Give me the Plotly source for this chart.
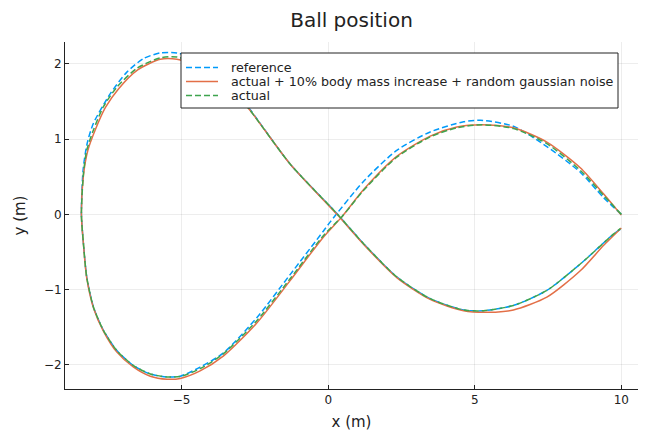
import plotly.graph_objects as go

# reference trajectory
ref_x = [10.0, 9.4, 8.6, 7.46, 6.32, 5.2, 4.62, 3.48, 2.34, 1.21, 0.07, -0.16, -1.30, -2.43, -3.57,
         -4.37, -5.05, -5.5, -6.07, -6.64, -7.21, -7.67, -8.01, -8.24, -8.35, -8.42,
         -8.36, -8.22, -8.01, -7.44, -6.87, -6.30, -5.73, -5.16, -4.4, -3.5, -2.66, -1.30, 0.3,
         1.21, 2.34, 3.48, 4.62, 5.3, 6.32, 7.46, 8.6, 9.74, 10.0]
ref_y = [0.0, 0.22, 0.56, 0.90, 1.17, 1.25, 1.23, 1.095, 0.85, 0.44, -0.10, -0.22, -0.80, -1.37, -1.84,
         -2.03, -2.15, -2.16, -2.12, -2.01, -1.81, -1.54, -1.23, -0.83, -0.39, 0.0,
         0.6, 0.95, 1.21, 1.60, 1.89, 2.07, 2.145, 2.145, 2.05, 1.80, 1.39, 0.67, 0.01,
         -0.39, -0.83, -1.12, -1.27, -1.28, -1.21, -1.01, -0.66, -0.26, -0.19]

# actual + 10% body mass increase + random gaussian noise
noisy_x = [10.0, 9.4, 8.6, 7.46, 6.32, 5.25, 4.39, 3.48, 2.34, 1.21, 0.47, -0.16, -1.30, -2.43, -3.57,
           -4.37, -5.05, -5.5, -6.07, -6.64, -7.21, -7.67, -8.01, -8.24, -8.35, -8.42,
           -8.35, -8.2, -7.95, -7.6, -7.15, -6.5, -5.73, -5.16, -4.4, -3.5, -2.66, -1.30, 0.3,
           1.21, 2.34, 3.48, 4.62, 5.5, 6.32, 7.46, 8.6, 9.4, 10.0]
noisy_y = [-0.01, 0.27, 0.62, 0.96, 1.15, 1.19, 1.16, 1.04, 0.77, 0.33, -0.03, -0.30, -0.88, -1.44, -1.88,
           -2.08, -2.18, -2.19, -2.15, -2.03, -1.83, -1.55, -1.24, -0.84, -0.40, 0.0,
           0.52, 0.85, 1.12, 1.42, 1.67, 1.92, 2.06, 2.06, 1.96, 1.76, 1.38, 0.67, 0.0,
           -0.40, -0.84, -1.13, -1.28, -1.30, -1.27, -1.10, -0.75, -0.41, -0.18]

# actual
act_x = [10.0, 9.4, 8.6, 7.46, 6.32, 5.25, 4.39, 3.48, 2.34, 1.21, 0.47, -0.16, -1.30, -2.43, -3.57,
         -4.37, -5.05, -5.5, -6.07, -6.64, -7.21, -7.67, -8.01, -8.24, -8.35, -8.42,
         -8.35, -8.24, -8.01, -7.67, -7.21, -6.53, -5.73, -5.16, -4.4, -3.5, -2.66, -1.30, 0.3,
         1.21, 2.34, 3.48, 4.62, 5.3, 6.32, 7.46, 8.6, 9.74, 9.97]
act_y = [0.0, 0.25, 0.585, 0.94, 1.14, 1.19, 1.15, 1.03, 0.76, 0.32, -0.03, -0.28, -0.855, -1.41, -1.85,
         -2.05, -2.155, -2.16, -2.12, -2.01, -1.81, -1.54, -1.23, -0.83, -0.39, 0.0,
         0.54, 0.85, 1.12, 1.43, 1.69, 1.94, 2.08, 2.09, 1.98, 1.77, 1.38, 0.67, 0.01,
         -0.39, -0.83, -1.12, -1.27, -1.28, -1.21, -1.01, -0.66, -0.26, -0.19]

x_ticks = [-5, 0, 5, 10]
y_ticks = [-2, -1, 0, 1, 2]

series_names = ["reference",
                "actual + 10% body mass increase + random gaussian noise",
                "actual"]
series_colors = ["#009AFA", "#E36F47", "#3EA44E"]
series_dash = ["6px,3px", "solid", "6px,3px"]

FONT = "DejaVu Sans"
TXT = "#222222"

W, H = 647, 433
PL, PR, PT, PB = 65, 638, 42, 389  # plot area in pixels


def px_x(p):
    return (p - PL) / (PR - PL)


def px_y(p):
    return (PB - p) / (PB - PT)


fig = go.Figure()
for xs, ys, name, col, dash in zip([ref_x, noisy_x, act_x], [ref_y, noisy_y, act_y],
                                   series_names, series_colors, series_dash):
    fig.add_trace(go.Scatter(x=xs, y=ys, mode="lines", name=name, showlegend=False,
                             line=dict(color=col, width=1.5, dash=dash,
                                       shape="spline", smoothing=0.7)))

axis_common = dict(showgrid=True, gridcolor="rgba(0,0,0,0.07)", gridwidth=1,
                   zeroline=False, showline=True, linecolor=TXT, linewidth=1,
                   ticks="inside", ticklen=4, tickcolor=TXT,
                   tickfont=dict(family=FONT, size=12, color=TXT),
                   mirror=False, automargin=False)

fig.update_xaxes(range=[-8.98, 10.57], tickvals=x_ticks,
                 title=dict(text="x (m)", font=dict(family=FONT, size=15, color=TXT), standoff=10),
                 **axis_common)
fig.update_yaxes(range=[-2.32, 2.29], tickvals=y_ticks,
                 title=dict(text="y (m)", font=dict(family=FONT, size=15, color=TXT), standoff=14),
                 **axis_common)

# legend box (drawn in paper coordinates)
shapes = [dict(type="rect", xref="paper", yref="paper",
               x0=px_x(181), x1=px_x(618), y0=px_y(108), y1=px_y(53),
               line=dict(color=TXT, width=1), fillcolor="white", layer="above")]
annotations = []
row_y = [67.5, 81.5, 95.5]
for name, col, dash, ry in zip(series_names, series_colors, series_dash, row_y):
    shapes.append(dict(type="line", xref="paper", yref="paper",
                       x0=px_x(186), x1=px_x(218), y0=px_y(ry), y1=px_y(ry),
                       line=dict(color=col, width=1.5, dash=dash), layer="above"))
    annotations.append(dict(text=name, xref="paper", yref="paper",
                            x=px_x(229), y=px_y(ry), xanchor="left", yanchor="middle",
                            showarrow=False,
                            font=dict(family=FONT, size=12.7, color=TXT)))

fig.update_layout(
    width=W, height=H,
    margin=dict(l=PL, r=W - PR, t=PT, b=H - PB),
    plot_bgcolor="white", paper_bgcolor="white",
    title=dict(text="Ball position", x=(PL + PR) / 2 / W, xanchor="center",
               y=1 - 20 / H, yanchor="middle",
               font=dict(family=FONT, size=20, color=TXT)),
    shapes=shapes,
    annotations=annotations,
    showlegend=False,
)

fig.write_html("out.html", config={"displayModeBar": False},
               post_script="document.body.style.margin='0';")
